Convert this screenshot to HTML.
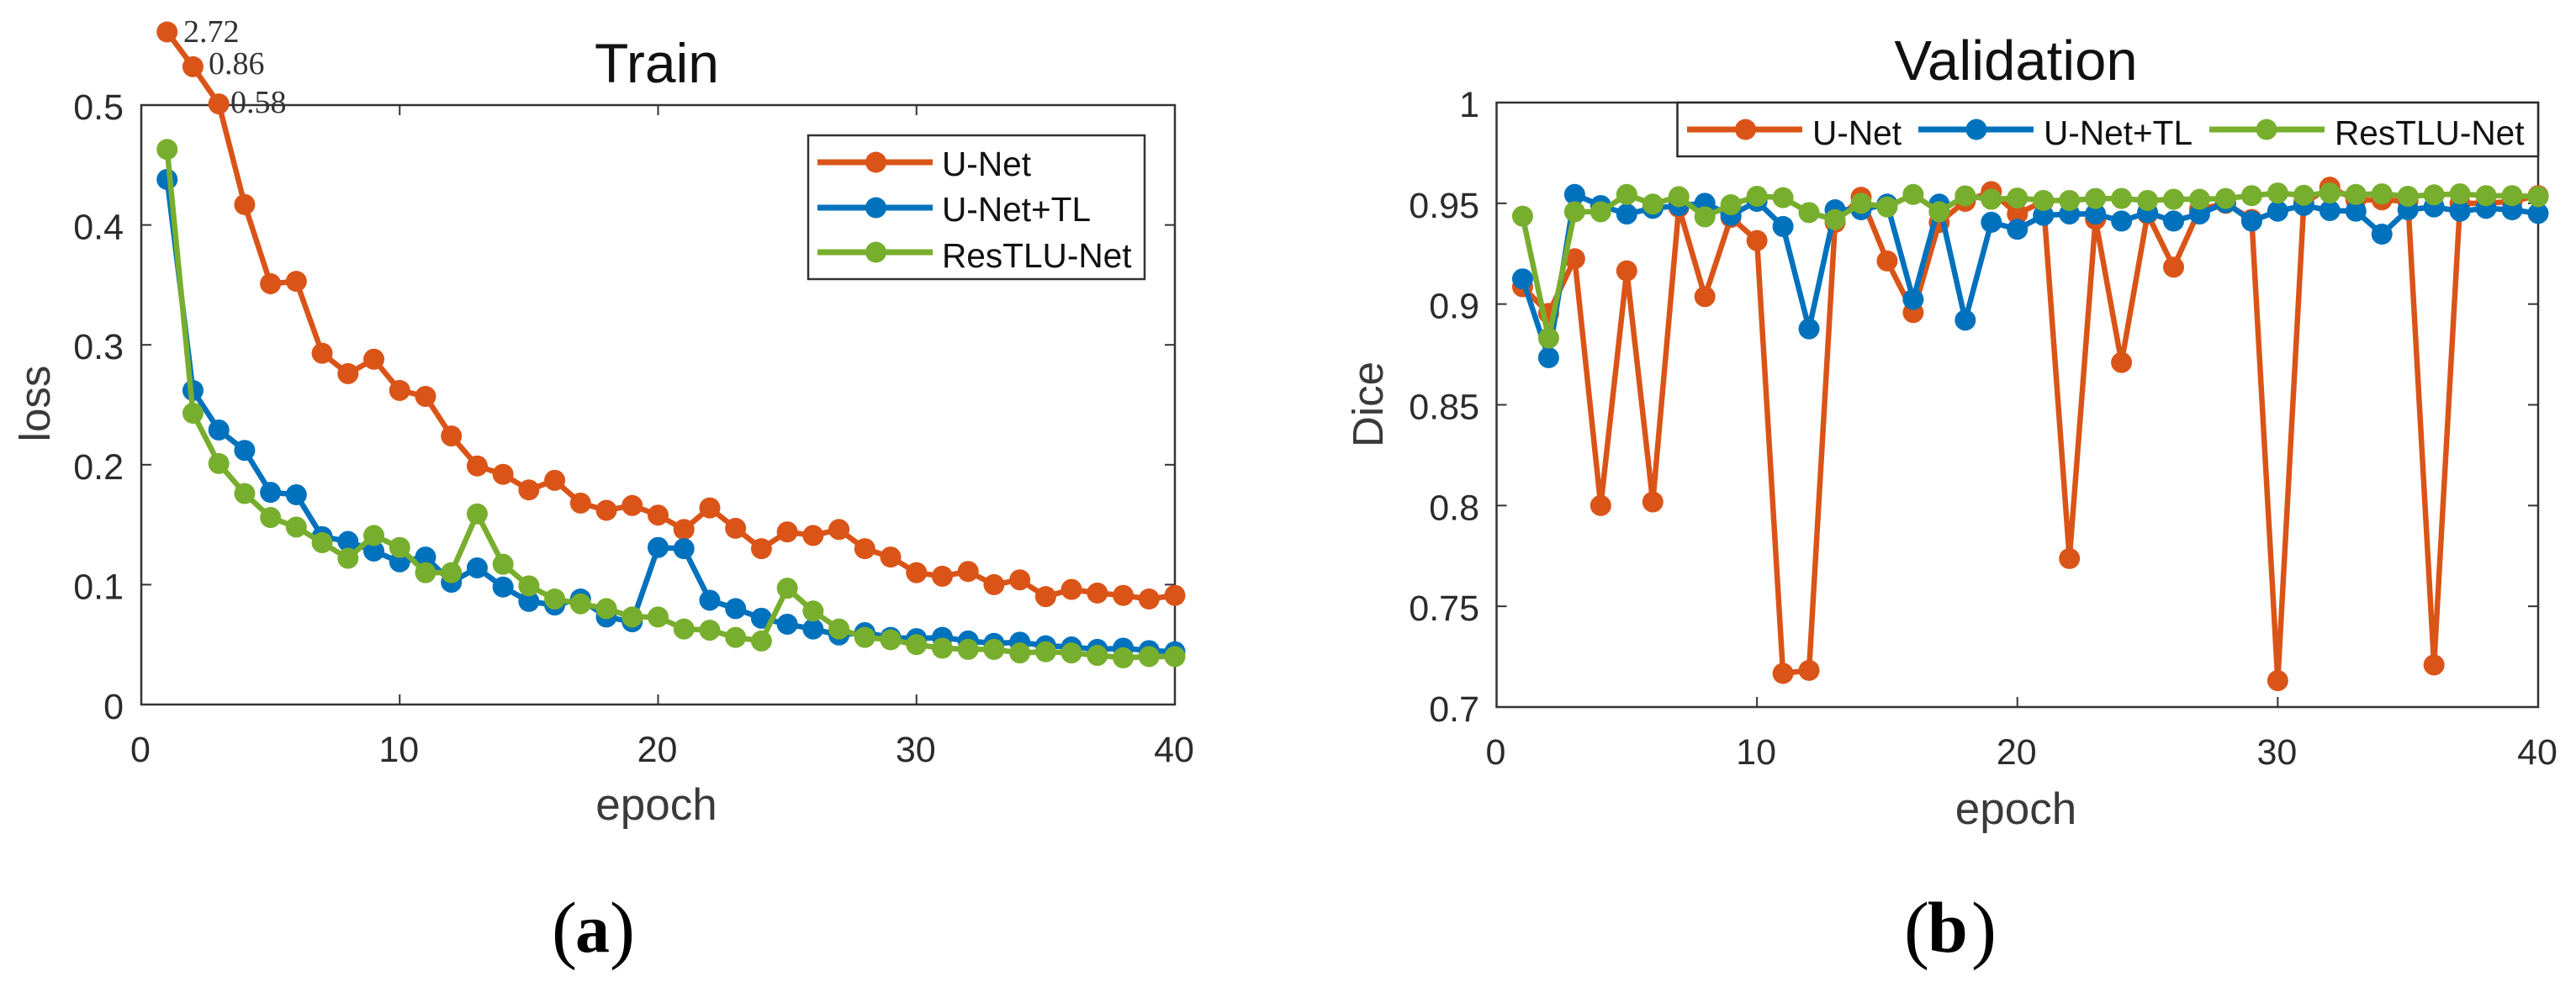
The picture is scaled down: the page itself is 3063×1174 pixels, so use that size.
<!DOCTYPE html>
<html lang="en">
<head>
<meta charset="utf-8">
<title>Train and Validation curves</title>
<style>
html,body{margin:0;padding:0;background:#fff;width:3063px;height:1174px;overflow:hidden}
svg{display:block;font-family:"Liberation Sans",sans-serif}
</style>
</head>
<body>
<svg id="figure" xmlns="http://www.w3.org/2000/svg" width="3063" height="1174" viewBox="0 0 3063 1174">
  <rect x="0" y="0" width="3063" height="1174" fill="#fff"/>
  <g id="panel-a"></g>
  <g id="panel-b"></g>

  <text x="781" y="98" font-size="66" fill="#111" text-anchor="middle">Train</text>
  <text x="780.5" y="975" font-size="53" fill="#3a3a3a" text-anchor="middle">epoch</text>
  <text transform="translate(59 480) rotate(-90)" font-size="51" fill="#3a3a3a" text-anchor="middle">loss</text>
  <text x="218" y="50" font-size="38" fill="#333" font-family="'Liberation Serif',serif">2.72</text>
  <text x="248" y="88" font-size="38" fill="#333" font-family="'Liberation Serif',serif">0.86</text>
  <text x="274" y="134" font-size="38" fill="#333" font-family="'Liberation Serif',serif">0.58</text>

  <g>
    <rect x="961" y="161" width="400" height="171" fill="#fff" stroke="#333" stroke-width="2.5"/>
    <line x1="972" x2="1109" y1="193" y2="193" stroke="#DA5418" stroke-width="7"/>
    <circle cx="1041.5" cy="193" r="12.5" fill="#DA5418"/>
    <text x="1120" y="209" font-size="40.6" fill="#111">U-Net</text>
    <line x1="972" x2="1109" y1="247" y2="247" stroke="#0072BD" stroke-width="7"/>
    <circle cx="1041.5" cy="247" r="12.5" fill="#0072BD"/>
    <text x="1120" y="263" font-size="40.6" fill="#111">U-Net+TL</text>
    <line x1="972" x2="1109" y1="300" y2="300" stroke="#78AE2E" stroke-width="7"/>
    <circle cx="1041.5" cy="300" r="12.5" fill="#78AE2E"/>
    <text x="1120" y="318" font-size="40.6" fill="#111">ResTLU-Net</text>
  </g>

  <text x="2397" y="95" font-size="67" fill="#111" text-anchor="middle">Validation</text>
  <text x="2397" y="980" font-size="53" fill="#3a3a3a" text-anchor="middle">epoch</text>
  <text transform="translate(1644 481) rotate(-90)" font-size="51" fill="#3a3a3a" text-anchor="middle">Dice</text>

  <g>
    <rect x="1994.5" y="122" width="1023.5" height="64" fill="#fff" stroke="#2a2a2a" stroke-width="2.5"/>
    <line x1="2006" x2="2143" y1="154" y2="154" stroke="#DA5418" stroke-width="7"/>
    <circle cx="2075.5" cy="154" r="12.5" fill="#DA5418"/>
    <text x="2155" y="172" font-size="40.6" fill="#111">U-Net</text>
    <line x1="2281" x2="2418" y1="154" y2="154" stroke="#0072BD" stroke-width="7"/>
    <circle cx="2350" cy="154" r="12.5" fill="#0072BD"/>
    <text x="2430" y="172" font-size="40.6" fill="#111">U-Net+TL</text>
    <line x1="2627" x2="2764" y1="154" y2="154" stroke="#78AE2E" stroke-width="7"/>
    <circle cx="2695" cy="154" r="12.5" fill="#78AE2E"/>
    <text x="2776" y="172" font-size="40.6" fill="#111">ResTLU-Net</text>
  </g>

  <text fill="#000" font-family="'Liberation Serif',serif"><tspan x="656" y="1135" font-size="90">(</tspan><tspan x="684" y="1132" font-size="82" font-weight="bold">a</tspan><tspan x="725" y="1135" font-size="90">)</tspan></text>
  <text fill="#000" font-family="'Liberation Serif',serif"><tspan x="2264" y="1135" font-size="90">(</tspan><tspan x="2292" y="1132" font-size="86" font-weight="bold">b</tspan><tspan x="2344" y="1135" font-size="90">)</tspan></text>
</svg>

<script>
const epochs = [1,2,3,4,5,6,7,8,9,10,11,12,13,14,15,16,17,18,19,20,21,22,23,24,25,26,27,28,29,30,31,32,33,34,35,36,37,38,39,40];

const trainUNet = [0.561,0.532,0.501,0.417,0.351,0.353,0.293,0.276,0.288,0.262,0.257,0.224,0.199,0.192,0.179,0.187,0.168,0.162,0.166,0.158,0.146,0.164,0.147,0.130,0.144,0.141,0.146,0.130,0.123,0.110,0.107,0.111,0.100,0.104,0.090,0.096,0.093,0.091,0.088,0.091];
const trainUNetTL = [0.438,0.262,0.229,0.212,0.177,0.175,0.140,0.136,0.128,0.119,0.123,0.102,0.114,0.098,0.086,0.083,0.088,0.073,0.069,0.131,0.130,0.087,0.080,0.072,0.067,0.063,0.058,0.060,0.056,0.055,0.056,0.053,0.051,0.052,0.049,0.048,0.046,0.047,0.045,0.044];
const trainResTLU = [0.463,0.243,0.201,0.176,0.156,0.148,0.135,0.122,0.141,0.131,0.110,0.110,0.159,0.117,0.099,0.088,0.084,0.080,0.073,0.073,0.063,0.062,0.056,0.053,0.097,0.078,0.063,0.056,0.054,0.050,0.047,0.046,0.046,0.043,0.044,0.043,0.041,0.039,0.040,0.040];

const valUNet = [0.9086,0.8954,0.9225,0.8000,0.9165,0.8018,0.9480,0.9037,0.9430,0.9315,0.7167,0.7182,0.9405,0.9530,0.9214,0.8958,0.9405,0.9510,0.9558,0.9447,0.9510,0.7737,0.9420,0.8710,0.9447,0.9183,0.9470,0.9500,0.9420,0.7131,0.9500,0.9580,0.9517,0.9517,0.9510,0.7209,0.9500,0.9500,0.9510,0.9538];
const valUNetTL = [0.9125,0.8734,0.9544,0.9489,0.9447,0.9475,0.9489,0.9500,0.9440,0.9510,0.9385,0.8877,0.9468,0.9468,0.9496,0.9023,0.9496,0.8920,0.9406,0.9371,0.9440,0.9447,0.9447,0.9412,0.9454,0.9412,0.9447,0.9503,0.9412,0.9461,0.9489,0.9464,0.9461,0.9347,0.9468,0.9482,0.9461,0.9475,0.9468,0.9450];
const valResTLU = [0.9436,0.8831,0.9458,0.9458,0.9544,0.9496,0.9533,0.9433,0.9493,0.9535,0.9528,0.9454,0.9419,0.9500,0.9482,0.9544,0.9458,0.9537,0.9520,0.9526,0.9514,0.9514,0.9524,0.9524,0.9514,0.9520,0.9520,0.9524,0.9538,0.9551,0.9540,0.9551,0.9544,0.9547,0.9535,0.9542,0.9547,0.9538,0.9538,0.9533];

const xTicks = [0,10,20,30,40];
const trainYTicks = [0,0.1,0.2,0.3,0.4,0.5];
const trainYTickLabels = ['0','0.1','0.2','0.3','0.4','0.5'];
const valYTicks = [0.7,0.75,0.8,0.85,0.9,0.95,1];
const valYTickLabels = ['0.7','0.75','0.8','0.85','0.9','0.95','1'];

const seriesColors = ['#DA5418','#0072BD','#78AE2E'];
const seriesKeys = ['unet','unet-tl','restlu-net'];

const NS = 'http://www.w3.org/2000/svg';
function make(tag, parent, props) {
  const n = document.createElementNS(NS, tag);
  for (const k in props) n.setAttribute(k, props[k]);
  parent.appendChild(n);
  return n;
}
function scale(d0, d1, r0, r1) {
  return v => r0 + (v - d0) * (r1 - r0) / (d1 - d0);
}

function drawPanel(cfg) {
  const g = document.getElementById(cfg.id);
  const xs = scale(0, 40, cfg.left, cfg.right);
  const ys = scale(cfg.yMin, cfg.yMax, cfg.bottom, cfg.top);

  const frame = make('rect', g, {x: cfg.left, y: cfg.top, width: cfg.right - cfg.left, height: cfg.bottom - cfg.top, fill: 'none', stroke: '#333', 'stroke-width': 2.5});
  
  

  xTicks.forEach(t => {
    const x = xs(t);
    const low = make('line', g, {x1: x, x2: x, y1: cfg.bottom, y2: cfg.bottom - 12, stroke: '#333', 'stroke-width': 2});
    
    
    const high = make('line', g, {x1: x, x2: x, y1: cfg.top, y2: cfg.top + 12, stroke: '#333', 'stroke-width': 2});
    
    
    const label = make('text', g, {x: x - 1, y: cfg.xLabelY, 'font-size': 43, fill: '#2b2b2b', 'text-anchor': 'middle'});
    label.textContent = String(t);
    
    
  });

  cfg.yTicks.forEach((t, i) => {
    const y = ys(t);
    const lo = make('line', g, {x1: cfg.left, x2: cfg.left + 12, y1: y, y2: y, stroke: '#333', 'stroke-width': 2});
    
    
    const hi = make('line', g, {x1: cfg.right, x2: cfg.right - 12, y1: y, y2: y, stroke: '#333', 'stroke-width': 2});
    
    
    const label = make('text', g, {x: cfg.yLabelX, y: y + 17, 'font-size': 43, fill: '#2b2b2b', 'text-anchor': 'end'});
    label.textContent = cfg.yLabels[i];
    
    
  });

  cfg.series.forEach((values, s) => {
    const group = make('g', g, {});
    
    
    const pts = values.map((v, i) => xs(epochs[i]).toFixed(2) + ',' + ys(v).toFixed(2)).join(' ');
    const line = make('polyline', group, {points: pts, fill: 'none', stroke: seriesColors[s], 'stroke-width': 6.5, 'stroke-linejoin': 'round'});
    
    
    values.forEach((v, i) => {
      const dot = make('circle', group, {cx: xs(epochs[i]).toFixed(2), cy: ys(v).toFixed(2), r: 12.5, fill: seriesColors[s]});
      
      
    });
  });
}

drawPanel({id: 'panel-a', prefix: 'train', left: 168, right: 1397, top: 125, bottom: 838, yMin: 0, yMax: 0.5,
  yTicks: trainYTicks, yLabels: trainYTickLabels, yLabelX: 147, xLabelY: 906,
  series: [trainUNet, trainUNetTL, trainResTLU]});
drawPanel({id: 'panel-b', prefix: 'validation', left: 1779.5, right: 3018, top: 122, bottom: 841, yMin: 0.7, yMax: 1,
  yTicks: valYTicks, yLabels: valYTickLabels, yLabelX: 1759, xLabelY: 909,
  series: [valUNet, valUNetTL, valResTLU]});
</script>
</body>
</html>
